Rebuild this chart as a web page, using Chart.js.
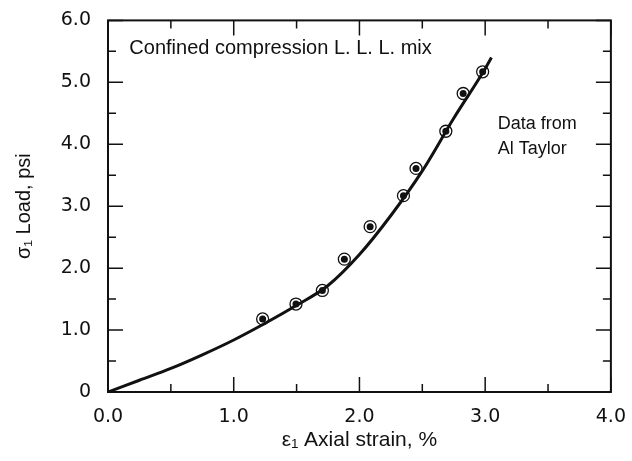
<!DOCTYPE html>
<html>
<head>
<meta charset="utf-8">
<script src="https://cdn.jsdelivr.net/npm/chart.js@4/dist/chart.umd.min.js"></script>
<style>
  body { margin: 0; background: #fff; }
  canvas { display: block; }
</style>
</head>
<body>
<canvas id="strainChart" width="632" height="461"></canvas>
<script>
// Fitted curve
const curveStrain = [0, 0.25, 0.5, 0.75, 1.0, 1.25, 1.5, 1.75, 2.0, 2.25, 2.5, 2.75, 3.0, 3.05];
const curveLoad = [0, 0.19, 0.38, 0.6, 0.84, 1.11, 1.40, 1.72, 2.22, 2.85, 3.57, 4.42, 5.22, 5.40];

// Measured points
const pointStrain = [1.23, 1.495, 1.705, 1.88, 2.085, 2.35, 2.45, 2.687, 2.825, 2.98];
const pointLoad = [1.18, 1.42, 1.64, 2.145, 2.67, 3.17, 3.61, 4.21, 4.82, 5.17];

// Axis ticks
const xTicks = [0, 1, 2, 3, 4];
const yTicks = [0, 1, 2, 3, 4, 5, 6];
const minorStep = 0.5;

const ink = '#111';
const textFont = '"Liberation Sans", Arial, Helvetica, sans-serif';
const tickFont = '"DejaVu Sans", Verdana, sans-serif';

const toXY = (xs, ys) => xs.map((x, i) => ({ x: x, y: ys[i] }));

// Frame with inward tick marks on all four sides, plus the text notes
const framePlugin = {
    id: 'frame',
    beforeDatasetsDraw(chart) {
        const ctx = chart.ctx;
        const a = chart.chartArea;
        const xs = chart.scales.x, ys = chart.scales.y;
        ctx.save();
        ctx.strokeStyle = ink;
        ctx.lineWidth = 2;
        ctx.strokeRect(a.left, a.top, a.right - a.left, a.bottom - a.top);
        ctx.lineWidth = 1.5;
        ctx.beginPath();
        for (let v = xs.min; v <= xs.max + 1e-9; v += minorStep) {
            const len = Number.isInteger(v) ? 15 : 8;
            const px = xs.getPixelForValue(v);
            ctx.moveTo(px, a.bottom); ctx.lineTo(px, a.bottom - len);
            ctx.moveTo(px, a.top); ctx.lineTo(px, a.top + len);
        }
        for (let v = ys.min; v <= ys.max + 1e-9; v += minorStep) {
            const len = Number.isInteger(v) ? 15 : 8;
            const py = ys.getPixelForValue(v);
            ctx.moveTo(a.left, py); ctx.lineTo(a.left + len, py);
            ctx.moveTo(a.right, py); ctx.lineTo(a.right - len, py);
        }
        ctx.stroke();
        ctx.restore();
    },
    afterDraw(chart) {
        const ctx = chart.ctx;
        const xs = chart.scales.x, ys = chart.scales.y;
        ctx.save();
        ctx.fillStyle = ink;
        ctx.textBaseline = 'alphabetic';
        ctx.textAlign = 'left';
        ctx.font = '20px ' + textFont;
        ctx.fillText('Confined compression L. L. L. mix', xs.getPixelForValue(0.17), ys.getPixelForValue(5.45));
        ctx.font = '18px ' + textFont;
        ctx.fillText('Data from', xs.getPixelForValue(3.1), ys.getPixelForValue(4.24));
        ctx.fillText('Al Taylor', xs.getPixelForValue(3.1), ys.getPixelForValue(3.85));
        ctx.restore();
    }
};

new Chart(document.getElementById('strainChart'), {
    type: 'scatter',
    data: {
        datasets: [
            {
                label: 'curve',
                data: toXY(curveStrain, curveLoad),
                showLine: true,
                cubicInterpolationMode: 'monotone',
                borderColor: ink,
                borderWidth: 3,
                pointRadius: 0,
                order: 3
            },
            {
                label: 'rings',
                data: toXY(pointStrain, pointLoad),
                pointRadius: 6,
                pointBorderWidth: 1.3,
                pointBorderColor: ink,
                pointBackgroundColor: 'rgba(255,255,255,0)',
                order: 2
            },
            {
                label: 'dots',
                data: toXY(pointStrain, pointLoad),
                pointRadius: 3.5,
                pointBorderWidth: 0,
                pointBackgroundColor: ink,
                order: 1
            }
        ]
    },
    options: {
        responsive: false,
        animation: false,
        layout: { padding: { top: 15, right: 18, left: 0, bottom: 0 } },
        plugins: {
            legend: { display: false },
            tooltip: { enabled: false }
        },
        scales: {
            x: {
                type: 'linear',
                min: 0,
                max: 4,
                afterBuildTicks: function(scale) {
                    scale.ticks = xTicks.map(v => ({ value: v }));
                },
                afterFit: function(scale) { scale.height = 69; },
                grid: { display: false },
                border: { display: false },
                ticks: {
                    color: ink,
                    padding: 6,
                    font: { size: 19, family: tickFont },
                    callback: function(value) { return value.toFixed(1); }
                },
                title: {
                    display: true,
                    text: 'ε\u2081 Axial strain, %',
                    color: ink,
                    font: { size: 21, family: textFont },
                    padding: { top: 0, bottom: 8 }
                }
            },
            y: {
                type: 'linear',
                min: 0,
                max: 6,
                afterBuildTicks: function(scale) {
                    scale.ticks = yTicks.map(v => ({ value: v }));
                },
                afterFit: function(scale) { scale.width = 108; },
                grid: { display: false },
                border: { display: false },
                ticks: {
                    color: ink,
                    padding: 9,
                    font: { size: 19, family: tickFont },
                    callback: function(value) { return value === 0 ? '0' : value.toFixed(1); }
                },
                title: {
                    display: true,
                    text: 'σ\u2081 Load, psi',
                    color: ink,
                    font: { size: 20, family: textFont },
                    padding: { top: 12, bottom: 0 }
                }
            }
        }
    },
    plugins: [framePlugin]
});
</script>
</body>
</html>
